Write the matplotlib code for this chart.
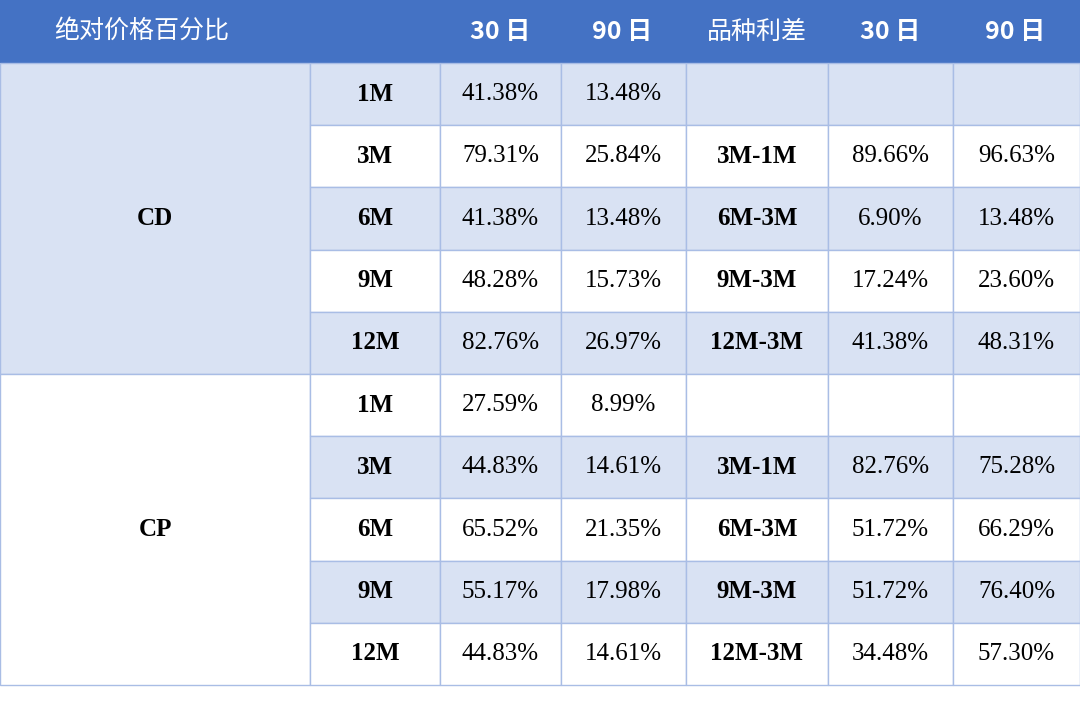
import matplotlib.pyplot as plt
from matplotlib.patches import Rectangle

header = ["绝对价格百分比", "30 日", "90 日", "品种利差", "30 日", "90 日"]
groups = ["CD", "CP"]
tenors = ["1M", "3M", "6M", "9M", "12M"]
cd_30 = ["41.38%", "79.31%", "41.38%", "48.28%", "82.76%"]
cd_90 = ["13.48%", "25.84%", "13.48%", "15.73%", "26.97%"]
cd_spread = ["", "3M-1M", "6M-3M", "9M-3M", "12M-3M"]
cd_s30 = ["", "89.66%", "6.90%", "17.24%", "41.38%"]
cd_s90 = ["", "96.63%", "13.48%", "23.60%", "48.31%"]
cp_30 = ["27.59%", "44.83%", "65.52%", "55.17%", "44.83%"]
cp_90 = ["8.99%", "14.61%", "21.35%", "17.98%", "14.61%"]
cp_spread = ["", "3M-1M", "6M-3M", "9M-3M", "12M-3M"]
cp_s30 = ["", "82.76%", "51.72%", "51.72%", "34.48%"]
cp_s90 = ["", "75.28%", "66.29%", "76.40%", "57.30%"]

col_edges = [0, 310, 440, 561, 686, 828, 953, 1080]
header_h = 63
row_h = 62.2

blue = "#4472C4"
light = "#D9E2F3"
line = "#A9BDE5"
serif = ["Liberation Serif", "Noto Sans CJK SC"]
cjk = ["Noto Sans CJK SC", "Liberation Serif"]

fig = plt.figure(figsize=(10.8, 7.25), dpi=100)
ax = fig.add_axes([0, 0, 1, 1])
ax.set_xlim(0, 1080)
ax.set_ylim(725, 0)
ax.axis("off")

# header
ax.add_patch(Rectangle((0, 0), 1080, header_h, facecolor=blue, edgecolor="none"))
hx = [142, 500, 622, 757, 890, 1015]
for x, t in zip(hx, header):
    ax.text(x, header_h / 2, t, ha="center", va="center", color="white",
            fontsize=18, family=cjk, fontweight="bold" if "日" in t else "normal")

data = [(cd_30, cd_90, cd_spread, cd_s30, cd_s90),
        (cp_30, cp_90, cp_spread, cp_s30, cp_s90)]
for g, name in enumerate(groups):
    top = header_h + g * 5 * row_h
    gcol = light if g == 0 else "white"
    ax.add_patch(Rectangle((0, top), col_edges[1], 5 * row_h, facecolor=gcol,
                           edgecolor=line, lw=1))
    ax.text(col_edges[1] / 2, top + 2.5 * row_h, name, ha="center", va="center",
            fontsize=18, family=serif, fontweight="bold")
    v30, v90, sp, s30, s90 = data[g]
    for i in range(5):
        y = top + i * row_h
        shaded = (i % 2 == 0) if g == 0 else (i % 2 == 1)
        fc = light if shaded else "white"
        cells = [tenors[i], v30[i], v90[i], sp[i], s30[i], s90[i]]
        for c, t in enumerate(cells):
            x0, x1 = col_edges[c + 1], col_edges[c + 2]
            ax.add_patch(Rectangle((x0, y), x1 - x0, row_h, facecolor=fc,
                                   edgecolor=line, lw=1))
            bold = c in (0, 3)
            ax.text((x0 + x1) / 2, y + row_h / 2, t, ha="center", va="center",
                    fontsize=18, family=serif,
                    fontweight="bold" if bold else "normal")

fig.savefig("out.png", dpi=100, facecolor="white")
